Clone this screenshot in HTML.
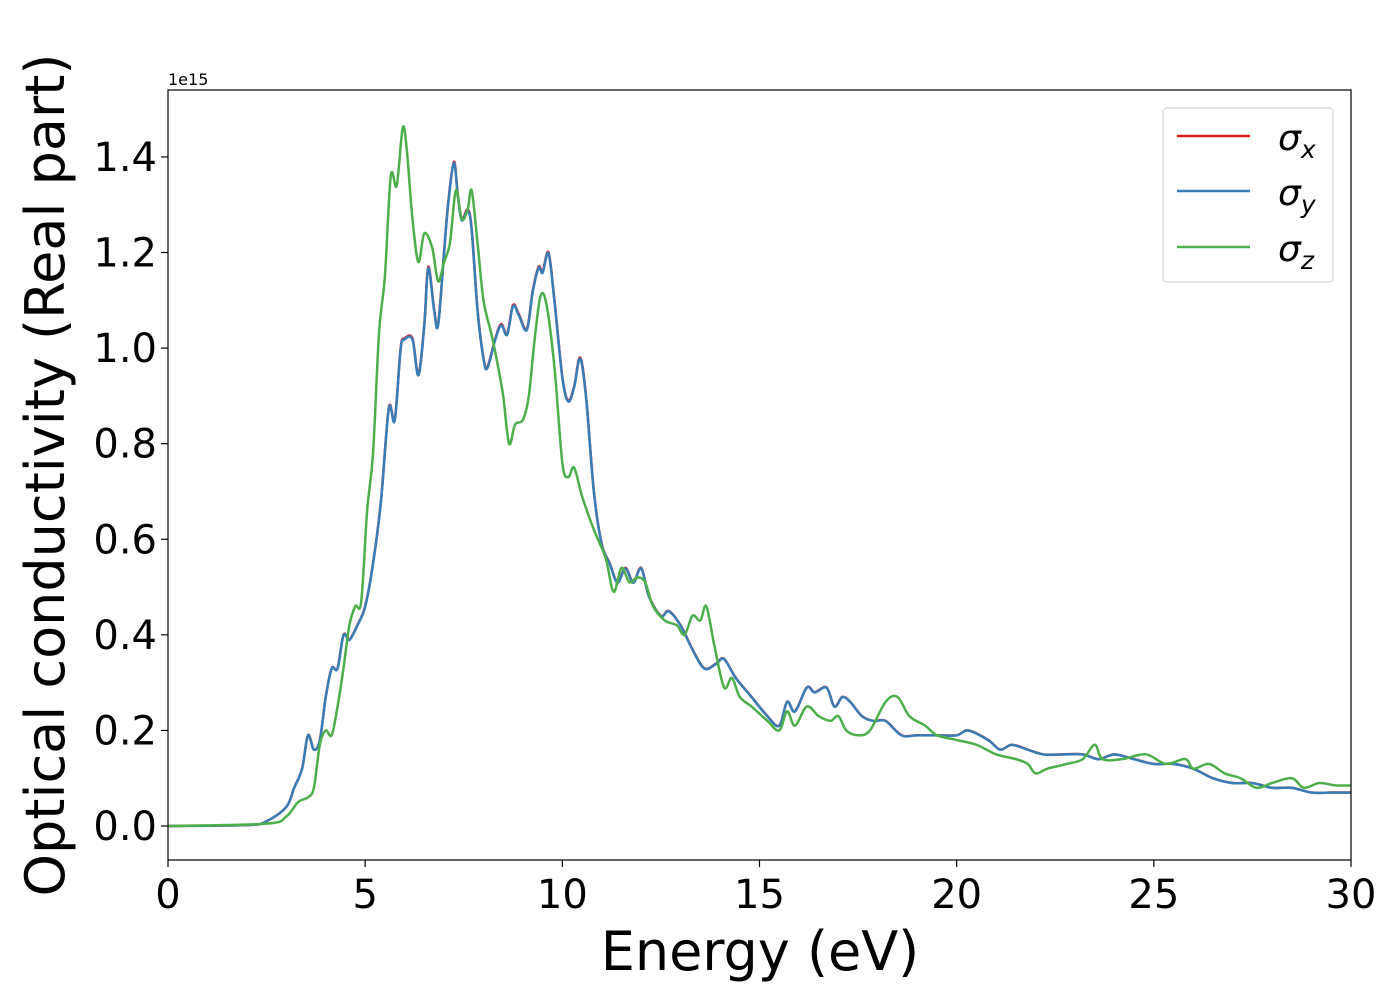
<!DOCTYPE html>
<html><head><meta charset="utf-8"><style>
body{margin:0;background:#fff}
svg text{font-family:"DejaVu Sans","Liberation Sans",sans-serif}
</style></head><body>
<svg width="1400" height="1000" viewBox="0 0 1400 1000">
<g id="axes"></g>
<g id="series"></g>
<rect x="168" y="90" width="1183" height="770" fill="none" stroke="#000" stroke-width="1.2"/>
<text x="168" y="85" font-size="16">1e15</text>
<text x="760" y="970" font-size="54" text-anchor="middle">Energy (eV)</text>
<text transform="translate(64,475) rotate(-90)" font-size="54" text-anchor="middle">Optical conductivity (Real part)</text>
<g>
<rect x="1163" y="108" width="170" height="174" rx="4" fill="#fff" fill-opacity="0.8" stroke="#ccc"/>
<g><line x1="1177" y1="136" x2="1250" y2="136" stroke="#e41a1c" stroke-width="2.5"/><text x="1278" y="150" font-size="36" font-style="italic">σ<tspan font-size="25" dy="8">x</tspan></text></g>
<g><line x1="1177" y1="191" x2="1250" y2="191" stroke="#377eb8" stroke-width="2.5"/><text x="1278" y="205" font-size="36" font-style="italic">σ<tspan font-size="25" dy="8">y</tspan></text></g>
<g><line x1="1177" y1="247" x2="1250" y2="247" stroke="#4daf4a" stroke-width="2.5"/><text x="1278" y="261" font-size="36" font-style="italic">σ<tspan font-size="25" dy="8">z</tspan></text></g>
</g>
</svg>
<script>
const xTicks=[0,5,10,15,20,25,30];
const yTicks=[0,0.2,0.4,0.6,0.8,1.0,1.2,1.4];
const energyX=[0,2,2.5,3,3.2,3.4,3.55,3.7,3.85,4.0,4.15,4.3,4.45,4.6,4.8,5.0,5.2,5.4,5.6,5.75,5.9,6.0,6.2,6.35,6.5,6.6,6.75,6.85,7.0,7.1,7.25,7.35,7.45,7.6,7.7,7.85,8.0,8.1,8.3,8.45,8.6,8.75,8.9,9.1,9.25,9.4,9.5,9.65,9.8,10.0,10.15,10.3,10.45,10.6,10.8,11.0,11.2,11.4,11.6,11.8,12.0,12.2,12.5,12.7,13.0,13.3,13.6,13.9,14.1,14.4,14.8,15.2,15.5,15.7,15.9,16.2,16.4,16.7,16.9,17.1,17.3,17.6,17.9,18.2,18.6,19.0,19.5,20.0,20.3,20.8,21.1,21.4,21.8,22.2,22.7,23.2,23.6,24.0,24.5,25.0,25.5,26.0,26.5,27.0,27.5,28.0,28.5,29.0,29.5,30];
const sigmaX=[0,0.002,0.01,0.04,0.08,0.12,0.19,0.16,0.18,0.27,0.33,0.33,0.40,0.39,0.42,0.46,0.55,0.68,0.875,0.85,1.0,1.02,1.02,0.945,1.05,1.17,1.08,1.05,1.2,1.3,1.39,1.32,1.27,1.29,1.25,1.08,0.98,0.96,1.02,1.05,1.03,1.09,1.07,1.04,1.12,1.17,1.16,1.20,1.10,0.94,0.89,0.92,0.98,0.90,0.70,0.59,0.55,0.51,0.54,0.51,0.54,0.48,0.44,0.45,0.42,0.37,0.33,0.34,0.35,0.31,0.27,0.23,0.21,0.26,0.24,0.29,0.28,0.29,0.25,0.27,0.26,0.23,0.22,0.22,0.19,0.19,0.19,0.19,0.20,0.18,0.16,0.17,0.16,0.15,0.15,0.15,0.14,0.15,0.14,0.13,0.13,0.12,0.10,0.09,0.09,0.08,0.08,0.07,0.07,0.07];
const sigmaY=sigmaX.map(v=>v*0.998);
const energyZ=[0,2.5,3,3.3,3.55,3.7,3.85,4.0,4.15,4.3,4.45,4.6,4.75,4.9,5.05,5.2,5.35,5.5,5.65,5.8,5.95,6.05,6.2,6.35,6.5,6.7,6.85,7.0,7.15,7.3,7.45,7.6,7.7,7.85,8.0,8.2,8.35,8.5,8.65,8.8,9.0,9.15,9.3,9.45,9.6,9.8,10.0,10.15,10.3,10.5,10.8,11.1,11.3,11.5,11.7,11.9,12.1,12.3,12.6,12.9,13.1,13.3,13.5,13.65,13.85,14.1,14.3,14.5,14.8,15.2,15.5,15.7,15.9,16.2,16.5,16.8,17.0,17.2,17.5,17.8,18.2,18.5,18.8,19.2,19.5,20.0,20.5,21.0,21.5,21.8,22.0,22.3,22.8,23.2,23.5,23.7,24.2,24.8,25.3,25.8,26.0,26.4,26.8,27.2,27.6,28.0,28.5,28.8,29.2,29.6,30];
const sigmaZ=[0,0.005,0.02,0.05,0.06,0.08,0.17,0.20,0.19,0.25,0.33,0.42,0.46,0.47,0.66,0.78,1.03,1.15,1.36,1.34,1.46,1.42,1.27,1.18,1.24,1.21,1.14,1.18,1.22,1.33,1.27,1.29,1.33,1.22,1.1,1.03,0.97,0.90,0.80,0.84,0.85,0.90,1.02,1.11,1.09,0.96,0.76,0.73,0.75,0.69,0.62,0.56,0.49,0.54,0.51,0.52,0.51,0.46,0.43,0.42,0.40,0.44,0.43,0.46,0.38,0.29,0.31,0.27,0.25,0.22,0.20,0.24,0.21,0.25,0.23,0.22,0.23,0.20,0.19,0.20,0.26,0.27,0.23,0.21,0.19,0.18,0.17,0.15,0.14,0.13,0.11,0.12,0.13,0.14,0.17,0.14,0.14,0.15,0.13,0.14,0.12,0.13,0.11,0.10,0.08,0.09,0.10,0.08,0.09,0.085,0.085];

const NS='http://www.w3.org/2000/svg';
const X0=168,X1=1351,Y0=826,YPER=477.9;
const xs=e=>X0+(X1-X0)*e/30;
const ys=v=>Y0-v*YPER;
const axes=document.getElementById('axes'),series=document.getElementById('series');
function mk(t,a,p){const el=document.createElementNS(NS,t);for(const k in a)el.setAttribute(k,a[k]);p.appendChild(el);return el;}
xTicks.forEach(t=>{
  const g=mk('g',{},axes);
  
  
  mk('line',{x1:xs(t),x2:xs(t),y1:860,y2:867,stroke:'#000','stroke-width':1.2},g);
  const tx=mk('text',{x:xs(t),y:908,'font-size':40,'text-anchor':'middle'},g);tx.textContent=String(t);
});
yTicks.forEach(t=>{
  const g=mk('g',{},axes);
  
  
  mk('line',{x1:161,x2:168,y1:ys(t),y2:ys(t),stroke:'#000','stroke-width':1.2},g);
  const tx=mk('text',{x:157,y:ys(t)+14,'font-size':40,'text-anchor':'end'},g);tx.textContent=t.toFixed(1);
});
function smooth(xa,ya){
  const p=xa.map((e,i)=>[xs(e),ys(ya[i])]);
  let d='M'+p[0][0]+','+p[0][1];
  for(let i=0;i<p.length-1;i++){
    const p0=p[i-1]||p[i],p1=p[i],p2=p[i+1],p3=p[i+2]||p2;
    const c1x=p1[0]+(p2[0]-p0[0])/6,c1y=p1[1]+(p2[1]-p0[1])/6;
    const c2x=p2[0]-(p3[0]-p1[0])/6,c2y=p2[1]-(p3[1]-p1[1])/6;
    d+=` C${c1x},${c1y} ${c2x},${c2y} ${p2[0]},${p2[1]}`;
  }
  return d;
}
const l1=mk('path',{d:smooth(energyX,sigmaX),fill:'none',stroke:'#e41a1c','stroke-width':2.5},series);


const l2=mk('path',{d:smooth(energyX,sigmaY),fill:'none',stroke:'#377eb8','stroke-width':2.5},series);


const l3=mk('path',{d:smooth(energyZ,sigmaZ),fill:'none',stroke:'#4daf4a','stroke-width':2.5},series);


</script>
</body></html>
